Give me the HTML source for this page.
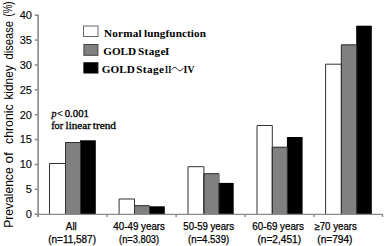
<!DOCTYPE html>
<html><head><meta charset="utf-8"><style>
html,body{margin:0;padding:0;background:#fff;width:385px;height:246px;overflow:hidden}
svg{display:block}
.yt{font-family:"Liberation Sans",sans-serif;font-size:11px;text-anchor:end;fill:#000;stroke:#000;stroke-width:0.1px}
.xl{font-family:"Liberation Sans",sans-serif;font-size:10px;text-anchor:middle;fill:#000;stroke:#000;stroke-width:0.25px}
.lg{font-family:"Liberation Serif",serif;font-weight:bold;font-size:11.2px;fill:#000}
.an{font-family:"Liberation Serif",serif;font-size:10px;fill:#000;stroke:#000;stroke-width:0.3px}
.yl{font-family:"Liberation Sans",sans-serif;font-size:13px;fill:#000}
</style></head><body>
<svg width="385" height="246" viewBox="0 0 385 246">
<rect x="49" y="163" width="16.00" height="51.20" fill="#ffffff"/>
<rect x="65" y="142" width="15.00" height="72.20" fill="#808080"/>
<rect x="80" y="140.3" width="15.80" height="73.90" fill="#000000"/>
<path d="M49.50,214.2 V163.50 H65.50 V214.2" fill="none" stroke="#333" stroke-width="1"/>
<path d="M65.50,214.2 V142.50 H80.50 V214.2" fill="none" stroke="#333" stroke-width="1"/>
<rect x="118.6" y="198.5" width="15.40" height="15.70" fill="#ffffff"/>
<rect x="134" y="205.2" width="15.00" height="9.00" fill="#808080"/>
<rect x="149" y="206.3" width="15.80" height="7.90" fill="#000000"/>
<path d="M119.10,214.2 V199.00 H134.50 V214.2" fill="none" stroke="#333" stroke-width="1"/>
<path d="M134.50,214.2 V205.70 H149.50 V214.2" fill="none" stroke="#333" stroke-width="1"/>
<rect x="187.5" y="166.2" width="15.90" height="48.00" fill="#ffffff"/>
<rect x="203.4" y="173.2" width="15.10" height="41.00" fill="#808080"/>
<rect x="218.5" y="182.9" width="15.20" height="31.30" fill="#000000"/>
<path d="M188.00,214.2 V166.70 H203.90 V214.2" fill="none" stroke="#333" stroke-width="1"/>
<path d="M203.90,214.2 V173.70 H219.00 V214.2" fill="none" stroke="#333" stroke-width="1"/>
<rect x="256.5" y="125" width="15.30" height="89.20" fill="#ffffff"/>
<rect x="271.8" y="146.8" width="15.10" height="67.40" fill="#808080"/>
<rect x="286.9" y="137" width="15.70" height="77.20" fill="#000000"/>
<path d="M257.00,214.2 V125.50 H272.30 V214.2" fill="none" stroke="#333" stroke-width="1"/>
<path d="M272.30,214.2 V147.30 H287.40 V214.2" fill="none" stroke="#333" stroke-width="1"/>
<rect x="325.1" y="63.7" width="15.80" height="150.50" fill="#ffffff"/>
<rect x="340.9" y="44.4" width="15.30" height="169.80" fill="#808080"/>
<rect x="356.2" y="25.7" width="15.60" height="188.50" fill="#000000"/>
<path d="M325.60,214.2 V64.20 H341.40 V214.2" fill="none" stroke="#333" stroke-width="1"/>
<path d="M341.40,214.2 V44.90 H356.70 V214.2" fill="none" stroke="#333" stroke-width="1"/>
<line x1="38.1" y1="14.80" x2="38.1" y2="216.89999999999998" stroke="#8a8a8a" stroke-width="1.6"/>
<line x1="34.800000000000004" y1="214.39999999999998" x2="383.0" y2="214.39999999999998" stroke="#8a8a8a" stroke-width="1.3"/>
<line x1="34.800000000000004" y1="214.20" x2="38.1" y2="214.20" stroke="#8a8a8a" stroke-width="1.5"/>
<text x="31.9" y="218.10" class="yt">0</text>
<line x1="34.800000000000004" y1="189.32" x2="38.1" y2="189.32" stroke="#8a8a8a" stroke-width="1.5"/>
<text x="31.9" y="193.22" class="yt">5</text>
<line x1="34.800000000000004" y1="164.45" x2="38.1" y2="164.45" stroke="#8a8a8a" stroke-width="1.5"/>
<text x="31.9" y="168.35" class="yt">10</text>
<line x1="34.800000000000004" y1="139.57" x2="38.1" y2="139.57" stroke="#8a8a8a" stroke-width="1.5"/>
<text x="31.9" y="143.47" class="yt">15</text>
<line x1="34.800000000000004" y1="114.70" x2="38.1" y2="114.70" stroke="#8a8a8a" stroke-width="1.5"/>
<text x="31.9" y="118.60" class="yt">20</text>
<line x1="34.800000000000004" y1="89.83" x2="38.1" y2="89.83" stroke="#8a8a8a" stroke-width="1.5"/>
<text x="31.9" y="93.73" class="yt">25</text>
<line x1="34.800000000000004" y1="64.95" x2="38.1" y2="64.95" stroke="#8a8a8a" stroke-width="1.5"/>
<text x="31.9" y="68.85" class="yt">30</text>
<line x1="34.800000000000004" y1="40.07" x2="38.1" y2="40.07" stroke="#8a8a8a" stroke-width="1.5"/>
<text x="31.9" y="43.97" class="yt">35</text>
<line x1="34.800000000000004" y1="15.20" x2="38.1" y2="15.20" stroke="#8a8a8a" stroke-width="1.5"/>
<text x="31.9" y="19.10" class="yt">40</text>
<line x1="38.10" y1="214.2" x2="38.10" y2="216.89999999999998" stroke="#8a8a8a" stroke-width="1.5"/>
<line x1="107.10" y1="214.2" x2="107.10" y2="216.89999999999998" stroke="#8a8a8a" stroke-width="1.5"/>
<line x1="176.10" y1="214.2" x2="176.10" y2="216.89999999999998" stroke="#8a8a8a" stroke-width="1.5"/>
<line x1="245.10" y1="214.2" x2="245.10" y2="216.89999999999998" stroke="#8a8a8a" stroke-width="1.5"/>
<line x1="314.10" y1="214.2" x2="314.10" y2="216.89999999999998" stroke="#8a8a8a" stroke-width="1.5"/>
<line x1="382.50" y1="214.2" x2="382.50" y2="216.89999999999998" stroke="#8a8a8a" stroke-width="1.5"/>
<text x="71.30" y="229.7" class="xl" textLength="11.0" lengthAdjust="spacingAndGlyphs">All</text>
<text x="72.10" y="242.9" class="xl" textLength="47.8" lengthAdjust="spacingAndGlyphs">(n=11,587)</text>
<text x="139.15" y="229.7" class="xl" textLength="51.7" lengthAdjust="spacingAndGlyphs">40-49 years</text>
<text x="139.10" y="242.9" class="xl" textLength="40.0" lengthAdjust="spacingAndGlyphs">(n=3.803)</text>
<text x="208.65" y="229.7" class="xl" textLength="50.7" lengthAdjust="spacingAndGlyphs">50-59 years</text>
<text x="208.60" y="242.9" class="xl" textLength="41.0" lengthAdjust="spacingAndGlyphs">(n=4.539)</text>
<text x="278.15" y="229.7" class="xl" textLength="51.7" lengthAdjust="spacingAndGlyphs">60-69 years</text>
<text x="279.25" y="242.9" class="xl" textLength="43.5" lengthAdjust="spacingAndGlyphs">(n=2,451)</text>
<text x="335.65" y="229.7" class="xl" textLength="42.5" lengthAdjust="spacingAndGlyphs">≥70 years</text>
<text x="334.85" y="242.9" class="xl" textLength="35.1" lengthAdjust="spacingAndGlyphs">(n=794)</text>
<rect x="83.5" y="26" width="14.5" height="10.5" fill="#fff" stroke="#666"/>
<text y="36.5" class="lg"><tspan x="104" letter-spacing="0.2">Normal</tspan><tspan x="144.1" letter-spacing="0">lung</tspan><tspan x="165.5" letter-spacing="0.1">function</tspan></text>
<rect x="83.9" y="44.5" width="14" height="10.8" fill="#808080" stroke="#444"/>
<text y="54.9" class="lg"><tspan x="103.2">GOLD</tspan><tspan x="138" letter-spacing="0.35">Stage</tspan><tspan x="164.9">I</tspan></text>
<rect x="83.9" y="62.8" width="14" height="10.2" fill="#000" stroke="#000"/>
<text y="73.4" class="lg"><tspan x="101.8">GOLD</tspan><tspan x="136.2" letter-spacing="0.4">Stage</tspan></text>
<text x="165.1" y="73.4" class="lg" textLength="6.2" lengthAdjust="spacingAndGlyphs">II</text>
<text x="183.6" y="73.4" class="lg" textLength="10.8" lengthAdjust="spacingAndGlyphs">IV</text>
<path d="M171.9,69.6 C173,67.6 174,67.2 175,67.4 C176.5,67.8 177.5,69.5 178.5,70.2 C179.5,70.9 180.5,71 181.5,70.2 C182.2,69.6 182.8,68.8 183.2,68.2" fill="none" stroke="#111" stroke-width="0.95"/>
<text x="51.6" y="117" class="an" font-style="italic" font-size="12px" stroke-width="0.2">p</text>
<text x="57" y="117.2" class="an" font-size="11px" stroke-width="0.15">&lt;</text>
<text x="64.7" y="117" class="an" textLength="24.2" lengthAdjust="spacingAndGlyphs">0.001</text>
<text x="51.2" y="128.8" class="an" textLength="12" lengthAdjust="spacingAndGlyphs">for</text>
<text x="65.6" y="128.8" class="an" textLength="25.3" lengthAdjust="spacingAndGlyphs">linear</text>
<text x="92.8" y="128.8" class="an" textLength="23.2" lengthAdjust="spacingAndGlyphs">trend</text>
<text transform="translate(13.0,227.7) rotate(-90)" class="yl" textLength="60.3" lengthAdjust="spacingAndGlyphs">Prevalence</text>
<text transform="translate(13.0,163.5) rotate(-90)" class="yl" textLength="11.4" lengthAdjust="spacingAndGlyphs">of</text>
<text transform="translate(13.0,143.9) rotate(-90)" class="yl" textLength="39.5" lengthAdjust="spacingAndGlyphs">chronic</text>
<text transform="translate(13.0,99.6) rotate(-90)" class="yl" textLength="34.3" lengthAdjust="spacingAndGlyphs">kidney</text>
<text transform="translate(13.0,59.4) rotate(-90)" class="yl" textLength="38.3" lengthAdjust="spacingAndGlyphs">disease</text>
<text transform="translate(11.5,16.5) rotate(-90)" class="yl" textLength="15.1" lengthAdjust="spacingAndGlyphs">(%)</text>
</svg>
</body></html>
